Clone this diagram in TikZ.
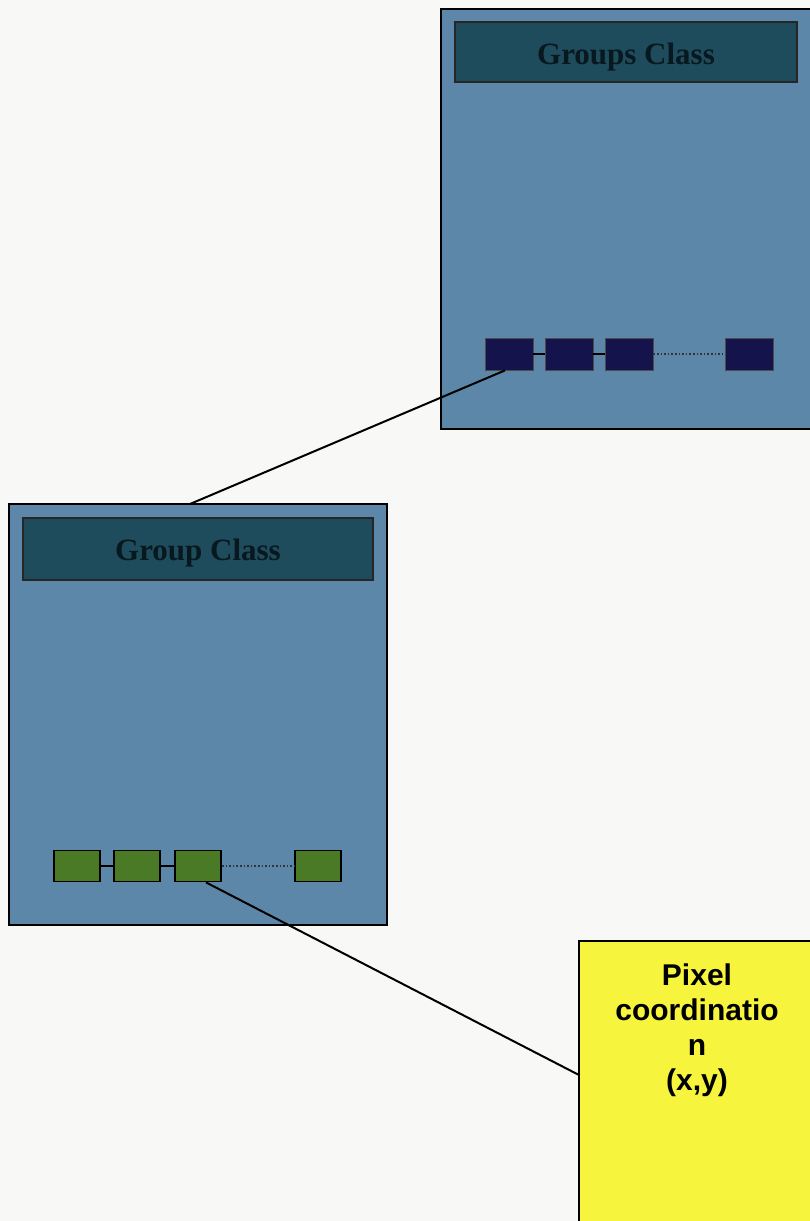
\documentclass[tikz,border=0pt]{standalone}
\usepackage{fontspec}
\setmainfont{Liberation Serif}
\newfontfamily\arialfont{Liberation Sans}
\begin{document}
\begin{tikzpicture}[x=1pt,y=-1pt,
  classbox/.style={draw=black,line width=2.2pt,fill=boxblue},
  header/.style={draw=black!85,line width=1.8pt,fill=headteal},
  htext/.style={font=\bfseries\fontsize{31}{34}\selectfont,text=htextc},
  navysq/.style={draw=black!70,line width=0.8pt,fill=navy,minimum width=48,minimum height=32,inner sep=0},
  greensq/.style={draw=black,line width=1.8pt,fill=leaf,minimum width=46,minimum height=31,inner sep=0},
  link/.style={draw=black,line width=2pt},
  dotlink/.style={draw=black!80,line width=1.6pt,dotted},
  conn/.style={draw=black,line width=2pt}
]
\definecolor{bgwhite}{HTML}{F8F8F6}
\definecolor{boxblue}{HTML}{5C87A8}
\definecolor{headteal}{HTML}{1E4C5C}
\definecolor{htextc}{HTML}{08181F}
\definecolor{navy}{HTML}{15134C}
\definecolor{leaf}{HTML}{4B7A26}
\definecolor{yel}{HTML}{F6F43C}
\useasboundingbox (0,0) rectangle (810,1221);
\fill[bgwhite] (0,0) rectangle (810,1221);

% top box
\draw[classbox] (441,9) rectangle (820,429);
\node[header,minimum width=342,minimum height=60,inner sep=0] (h1) at (626,52) {};
\node[htext] (t1) at ([yshift=-5pt]h1.center) {Groups Class};
\node[navysq] (a1) at (509,354) {};
\node[navysq] (a2) at (569,354) {};
\node[navysq] (a3) at (629,354) {};
\node[navysq] (a4) at (749,354) {};
\draw[link] (a1) -- (a2);
\draw[link] (a2) -- (a3);
\draw[dotlink] (a3) -- (a4);

% bottom box
\draw[classbox] (9,504) rectangle (387,925);
\node[coordinate] (topb) at (190,504) {};
\node[header,minimum width=350,minimum height=62,inner sep=0] (h2) at (198,549) {};
\node[htext] (t2) at ([yshift=-4pt]h2.center) {Group Class};
\node[greensq] (b1) at (77,866) {};
\node[greensq] (b2) at (137,866) {};
\node[greensq] (b3) at (198,866) {};
\node[greensq] (b4) at (318,866) {};
\draw[link] (b1) -- (b2);
\draw[link] (b2) -- (b3);
\draw[dotlink] (b3) -- (b4);

% yellow box
\draw[fill=yel,draw=black,line width=2.2pt] (579,941) rectangle (830,1240);
\node[coordinate] (yl) at (579,1075) {};
\node[font=\arialfont\bfseries\fontsize{30}{35}\selectfont,align=center,anchor=north] (pt) at (697,960)
  {Pixel\\coordinatio\\n\\(x,y)};

% connectors
\draw[conn] ([xshift=-4pt]a1.south) -- (topb);
\draw[conn] ([xshift=8pt]b3.south) -- (yl);
\end{tikzpicture}
\end{document}
